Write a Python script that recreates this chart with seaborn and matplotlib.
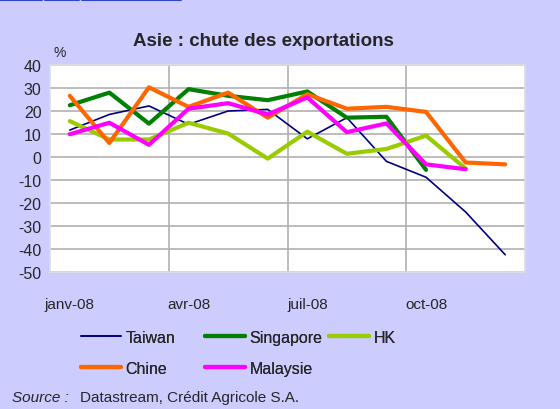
import numpy as np
import pandas as pd
import matplotlib
matplotlib.use("Agg")
import matplotlib.pyplot as plt
from matplotlib.lines import Line2D
import seaborn as sns

# Monthly export growth, % y/y
months = ["janv-08", "févr-08", "mars-08", "avr-08", "mai-08", "juin-08",
          "juil-08", "août-08", "sept-08", "oct-08", "nov-08", "déc-08"]
taiwan = [11.7, 18.5, 22.2, 14.2, 20.0, 20.7, 7.9, 17.1, -1.9, -8.8, -23.9, -42.5]
singapore = [22.5, 28.0, 14.5, 29.5, 26.6, 24.7, 28.5, 17.1, 17.5, -5.6, np.nan, np.nan]
hk = [15.6, 7.6, 7.6, 14.9, 10.2, -0.7, 11.0, 1.4, 3.5, 9.3, -5.0, np.nan]
chine = [26.6, 6.1, 30.3, 21.8, 28.0, 17.1, 27.3, 21.0, 21.8, 19.6, -2.4, -3.2]
malaysie = [9.9, 14.9, 5.3, 21.0, 23.4, 18.5, 25.9, 10.8, 14.6, -3.2, -5.3, np.nan]

series = {"Taiwan": taiwan, "Singapore": singapore, "HK": hk,
          "Chine": chine, "Malaysie": malaysie}
colors = {"Taiwan": "#000080", "Singapore": "#008000", "HK": "#99CC00",
          "Chine": "#FF6600", "Malaysie": "#FF00FF"}
widths = {"Taiwan": 1.2, "Singapore": 3.0, "HK": 3.0, "Chine": 3.0, "Malaysie": 3.0}

rows = []
for name, vals in series.items():
    for i, v in enumerate(vals):
        rows.append({"mois": i, "pays": name, "valeur": v})
df = pd.DataFrame(rows).dropna()

bg = "#CCCCFF"
sns.set_style("white")
plt.rcParams["font.family"] = ["Liberation Sans", "DejaVu Sans"]

fig = plt.figure(figsize=(5.6, 4.1), dpi=100, facecolor=bg)
ax = fig.add_axes([50 / 560, 1 - 273 / 410, 475 / 560, 207 / 410])
ax.set_facecolor("white")

sns.lineplot(data=df, x="mois", y="valeur", hue="pays", size="pays",
             palette=colors, sizes=widths, hue_order=list(series),
             size_order=list(series), legend=False, ax=ax, zorder=3)

ax.set_xlim(-0.5, 11.5)
ax.set_ylim(-50, 40)
ax.set_yticks(range(-50, 41, 10))
ax.set_yticklabels([str(v) for v in range(-50, 41, 10)], fontsize=11.5)
ax.set_xticks([0, 3, 6, 9])
ax.set_xticklabels([months[i] for i in [0, 3, 6, 9]], fontsize=11)
ax.tick_params(axis="y", length=0, pad=6)
ax.tick_params(axis="x", length=0, pad=18)
ax.set_xlabel("")
ax.set_ylabel("")
ax.grid(axis="y", color="#b0b0b0", lw=1.2, zorder=0)
for xv in [2.5, 5.5, 8.5]:
    ax.axvline(xv, color="#b0b0b0", lw=1.2, zorder=0)
for s in ax.spines.values():
    s.set_color("#dddddd")
    s.set_linewidth(1.2)

fig.text(263 / 560, 1 - 42 / 410, "Asie : chute des exportations",
         ha="center", va="center", fontsize=13.5, fontweight="bold")
fig.text(60 / 560, 1 - 53 / 410, "%", ha="center", va="center", fontsize=10)

# legend in three fixed-width columns
cols = [["Taiwan", "Chine"], ["Singapore", "Malaysie"], ["HK"]]
for k, names in enumerate(cols):
    handles = [Line2D([], [], color=colors[n], lw=widths[n]) for n in names]
    leg = fig.legend(handles, names, loc="upper left",
                     bbox_to_anchor=((73 + 124 * k) / 560, 1 - 323 / 410),
                     frameon=False, fontsize=11.5, handlelength=2.5,
                     handletextpad=0.3, labelspacing=1.0, borderpad=0)
    fig.add_artist(leg)

fig.text(12 / 560, 1 - 398 / 410, "Source :", ha="left", va="center",
         fontsize=11, style="italic")
fig.text(80 / 560, 1 - 398 / 410, "Datastream, Crédit Agricole S.A.",
         ha="left", va="center", fontsize=11)

# page link underline remnants at the top edge
for x0, x1 in [(0, 42), (45, 79), (82, 181)]:
    fig.add_artist(Line2D([x0 / 560, x1 / 560], [1 - 0.8 / 410, 1 - 0.8 / 410],
                          color="#3344CC", lw=1.5, transform=fig.transFigure))

fig.savefig("out.png", dpi=100, facecolor=bg)
